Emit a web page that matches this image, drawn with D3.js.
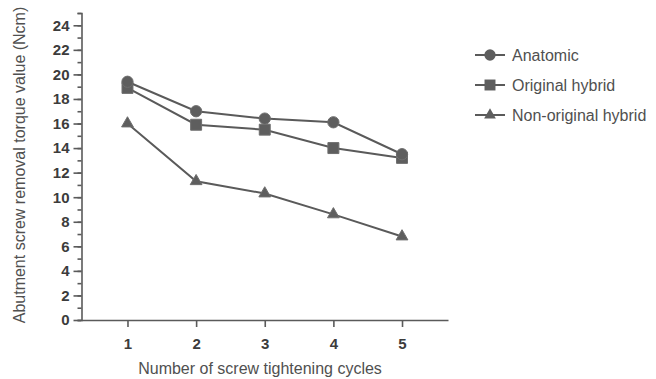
<!DOCTYPE html>
<html>
<head>
<meta charset="utf-8">
<script src="https://cdn.jsdelivr.net/npm/d3@7"></script>
<style>
  html, body { margin: 0; padding: 0; background: #fff; }
  svg { display: block; font-family: "Liberation Sans", Arial, Helvetica, sans-serif; }
</style>
</head>
<body>
<svg id="chart" width="656" height="379"></svg>
<script>
// Screw tightening cycles and removal torque (Ncm) per abutment type
const cycles = [1, 2, 3, 4, 5];
const anatomic = [19.4, 17.0, 16.4, 16.1, 13.5];
const originalHybrid = [18.9, 15.9, 15.5, 14.0, 13.2];
const nonOriginalHybrid = [16.0, 11.3, 10.3, 8.6, 6.8];
const seriesNames = ["Anatomic", "Original hybrid", "Non-original hybrid"];
const seriesShapes = [d3.symbolCircle, d3.symbolSquare, d3.symbolTriangle];
const yMajorTicks = [0, 2, 4, 6, 8, 10, 12, 14, 16, 18, 20, 22, 24];
const yMinorTicks = d3.range(0, 26, 1);

const svg = d3.select("#chart");
const ink = "#5a5a5a";
const textInk = "#505050";

const x = d3.scaleLinear().domain([0.33, 5.67]).range([81.5, 448]);
const y = d3.scaleLinear().domain([0, 25]).range([320, 13]);

// y axis: minor ticks every unit, labelled ticks every 2
svg.append("g")
  .attr("transform", "translate(81.5,0)")
  .call(d3.axisLeft(y).tickValues(yMinorTicks).tickSize(4).tickFormat(""))
  .call(g => g.selectAll("path,line").attr("stroke", ink).attr("stroke-width", 1.6));

svg.append("g")
  .attr("transform", "translate(81.5,0)")
  .call(d3.axisLeft(y).tickValues(yMajorTicks).tickSize(8).tickPadding(4).tickSizeOuter(0))
  .call(g => g.select(".domain").remove())
  .call(g => g.selectAll("line").attr("stroke", ink).attr("stroke-width", 1.6))
  .call(g => g.selectAll("text")
    .attr("fill", "#3c3c3c").attr("font-size", 15).attr("font-weight", "bold")
    .attr("font-family", "Liberation Sans, Arial, sans-serif"));

// x axis
svg.append("g")
  .attr("transform", "translate(0,320)")
  .call(d3.axisBottom(x).tickValues(cycles).tickSize(7).tickPadding(11).tickSizeOuter(0).tickFormat(d3.format("d")))
  .call(g => g.select(".domain").attr("stroke", ink).attr("stroke-width", 1.6))
  .call(g => g.selectAll("line").attr("stroke", ink).attr("stroke-width", 1.6))
  .call(g => g.selectAll("text")
    .attr("fill", "#3c3c3c").attr("font-size", 15).attr("font-weight", "bold")
    .attr("font-family", "Liberation Sans, Arial, sans-serif"));

// axis titles
svg.append("text")
  .attr("x", 260).attr("y", 374)
  .attr("text-anchor", "middle")
  .attr("font-size", 16).attr("fill", textInk)
  .text("Number of screw tightening cycles");

svg.append("text")
  .attr("transform", "translate(25,165) rotate(-90)")
  .attr("text-anchor", "middle")
  .attr("font-size", 16).attr("fill", textInk)
  .text("Abutment screw removal torque value (Ncm)");

// series lines and markers
const allSeries = [anatomic, originalHybrid, nonOriginalHybrid];
const line = d3.line().x((d, i) => x(cycles[i])).y(d => y(d));
const symbolSizes = [100, 120, 60];

// draw bottom series first so the circles sit on top at cycle 1
[2, 1, 0].forEach(s => {
  const vals = allSeries[s];
  svg.append("path")
    .datum(vals)
    .attr("d", line)
    .attr("fill", "none")
    .attr("stroke", ink)
    .attr("stroke-width", 2);
  svg.append("g").selectAll("path")
    .data(vals)
    .join("path")
    .attr("transform", (d, i) => `translate(${x(cycles[i])},${y(d)})`)
    .attr("d", d3.symbol(seriesShapes[s], symbolSizes[s]))
    .attr("fill", "#5e5e5e")
    .attr("stroke", "#6e6e6e")
    .attr("stroke-width", 1);
});

// legend
const legend = svg.append("g").attr("transform", "translate(475,55)");
seriesNames.forEach((name, i) => {
  const row = legend.append("g").attr("transform", `translate(0,${i * 30})`);
  row.append("line")
    .attr("x1", 0).attr("x2", 30).attr("y1", 0).attr("y2", 0)
    .attr("stroke", ink).attr("stroke-width", 2);
  row.append("path")
    .attr("transform", "translate(15,0)")
    .attr("d", d3.symbol(seriesShapes[i], symbolSizes[i]))
    .attr("fill", "#5e5e5e");
  row.append("text")
    .attr("x", 37).attr("y", 5.5)
    .attr("font-size", 16).attr("fill", textInk)
    .text(name);
});
</script>
</body>
</html>
